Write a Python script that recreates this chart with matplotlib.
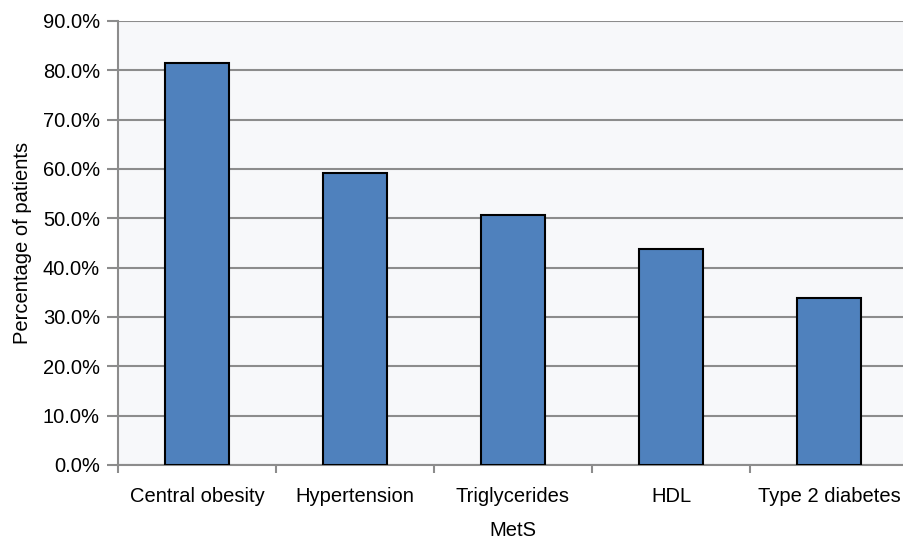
import matplotlib
matplotlib.use("Agg")
import matplotlib.pyplot as plt
from matplotlib.ticker import FuncFormatter, FixedLocator

categories = ["Central obesity", "Hypertension", "Triglycerides", "HDL", "Type 2 diabetes"]
values = [81.4, 59.1, 50.7, 43.8, 33.9]
yticks = [0, 10, 20, 30, 40, 50, 60, 70, 80, 90]

plt.rcParams['font.family'] = ['Liberation Sans', 'DejaVu Sans']

W, H = 904, 541
fig = plt.figure(figsize=(W / 100, H / 100), dpi=100)
left, right, top, bottom = 118, 908, 21, 465
ax = fig.add_axes([left / W, 1 - bottom / H, (right - left) / W, (bottom - top) / H])
ax.set_facecolor("#F7F8FA")

x = list(range(len(categories)))
ax.bar(x, values, width=0.405, color="#4F81BD", edgecolor="black", linewidth=1.5, zorder=3)

ax.set_xlim(-0.5, len(categories) - 0.5)
ax.set_ylim(0, 90)
ax.set_yticks(yticks)
ax.yaxis.set_major_formatter(FuncFormatter(lambda v, p: f"{v:.1f}%"))
ax.yaxis.grid(True, color="#8C8C8C", linewidth=1.5, zorder=1)
ax.set_axisbelow(True)

fs = 14.5
ax.set_xticks(x)
ax.set_xticklabels(categories)
ax.tick_params(axis='x', which='major', length=0, pad=16, labelsize=fs)
ax.xaxis.set_minor_locator(FixedLocator([i - 0.5 for i in range(len(categories) + 1)]))
ax.tick_params(axis='x', which='minor', length=6, width=1.5, color="#8C8C8C")
ax.tick_params(axis='y', length=8, width=1.5, color="#8C8C8C", labelsize=fs, pad=5)

for s in ["top", "right"]:
    ax.spines[s].set_visible(False)
for s in ["left", "bottom"]:
    ax.spines[s].set_color("#8C8C8C")
    ax.spines[s].set_linewidth(1.5)

ax.set_xlabel("MetS", fontsize=fs, labelpad=11)
ax.set_ylabel("Percentage of patients", fontsize=fs, labelpad=8)

fig.savefig("out.png", dpi=100)
